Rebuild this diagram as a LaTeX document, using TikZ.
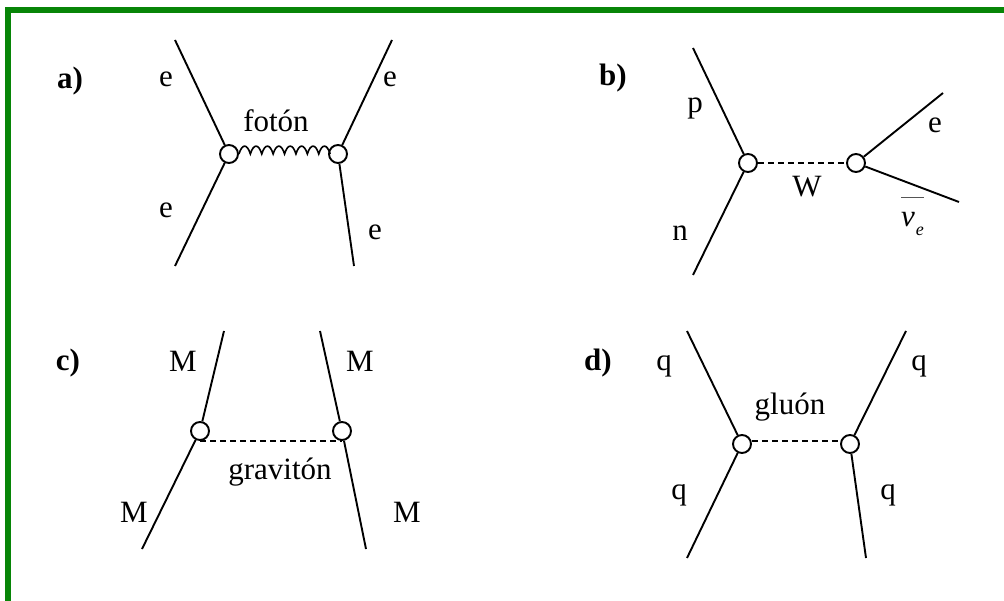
\documentclass[tikz,border=0pt]{standalone}
\usepackage{fontspec}
\setmainfont{Liberation Serif}
\usetikzlibrary{positioning}
\definecolor{framegreen}{HTML}{078507}
\definecolor{bargray}{HTML}{555555}

\begin{document}
\begin{tikzpicture}[
    x=1pt, y=-1pt,
    vertex/.style={circle, draw, line width=1.9pt, fill=white,
        minimum size=18pt, inner sep=0pt},
    fermion/.style={line width=1.9pt},
    boson/.style={line width=1.9pt, dash pattern=on 6pt off 4pt},
    lbl/.style={font=\fontsize{31}{37}\selectfont, inner sep=0pt},
    panel/.style={font=\fontsize{31}{37}\selectfont\bfseries, inner sep=0pt}
]
\useasboundingbox (0,0) rectangle (1004,601);

%% ---- Frame ----
\fill[framegreen] (5,7) rectangle (1004,13);
\fill[framegreen] (5,7) rectangle (11,601);

%% ---- a) electromagnetic ----
\node[panel] (a_tag) at (70,81) {a)};
\node[vertex] (a1) at (229,154) {};
\node[vertex] (a2) at (338,154) {};
\coordinate (a_tl) at (175,40);
\coordinate (a_tr) at (392,40);
\coordinate (a_bl) at (175,266);
\coordinate (a_br) at (354,266);
\draw[fermion] (a_tl) -- (a1);
\draw[fermion] (a_bl) -- (a1);
\draw[fermion] (a_tr) -- (a2);
\draw[fermion] (a_br) -- (a2);
% photon line
\draw[line width=1.6pt, line join=miter] (a1.east) foreach \k in {1,...,8} {
    .. controls +(3.2,-10.5) and +(-3.2,-10.5) .. ++(11.4,0) };
\node[lbl] (a_e1) at (166,79) {e};
\node[lbl] (a_e2) at (390,79) {e};
\node[lbl] (a_e3) at (166,210) {e};
\node[lbl] (a_e4) at (375,232) {e};
\node[lbl] (a_foton) at (276,121) {fotón};

%% ---- b) weak ----
\node[panel] (b_tag) at (613,78) {b)};
\node[vertex] (b1) at (748,163) {};
\node[vertex] (b2) at (856,163) {};
\coordinate (b_p) at (693,48);
\coordinate (b_n) at (693,275);
\coordinate (b_e) at (943,93);
\coordinate (b_nu) at (959,202);
\draw[fermion] (b_p) -- (b1);
\draw[fermion] (b_n) -- (b1);
\draw[fermion] (b_e) -- (b2);
\draw[fermion] (b_nu) -- (b2);
\draw[boson] (b1) -- (b2);
\node[lbl] (b_plbl) at (695,108) {p};
\node[lbl] (b_nlbl) at (680,233) {n};
\node[lbl] (b_elbl) at (935,125) {e};
\node[lbl] (b_W) at (807,187) {W};
\node[lbl, anchor=base west] (b_nulbl) at (901,227) {%
    \color{bargray}$\overline{\hbox{\color{black}\rule{0pt}{0.92em}\itshape ν\kern1pt\raisebox{-0.28em}{\fontsize{18}{18}\selectfont e}}}$};

%% ---- c) gravitational ----
\node[panel] (c_tag) at (68,363) {c)};
\node[vertex] (c1) at (200,431) {};
\node[vertex] (c2) at (342,431) {};
\coordinate (c_tl) at (224,331);
\coordinate (c_tr) at (320,331);
\coordinate (c_bl) at (142,549);
\coordinate (c_br) at (366,549);
\draw[fermion] (c_tl) -- (c1);
\draw[fermion] (c_bl) -- (c1);
\draw[fermion] (c_tr) -- (c2);
\draw[fermion] (c_br) -- (c2);
\draw[boson] (c1.south) -- (c2.south);
\node[lbl] (c_m1) at (183,361) {M};
\node[lbl] (c_m2) at (360,361) {M};
\node[lbl] (c_m3) at (134,512) {M};
\node[lbl] (c_m4) at (407,512) {M};
\node[lbl] (c_grav) at (280,472) {gravitón};

%% ---- d) strong ----
\node[panel] (d_tag) at (598,363) {d)};
\node[vertex] (d1) at (742,444) {};
\node[vertex] (d2) at (850,444) {};
\coordinate (d_tl) at (687,331);
\coordinate (d_tr) at (906,331);
\coordinate (d_bl) at (687,558);
\coordinate (d_br) at (866,558);
\draw[fermion] (d_tl) -- (d1);
\draw[fermion] (d_bl) -- (d1);
\draw[fermion] (d_tr) -- (d2);
\draw[fermion] (d_br) -- (d2);
\draw[boson] ([yshift=3pt]d1.east) -- ([yshift=3pt]d2.west);
\node[lbl] (d_q1) at (664,366) {q};
\node[lbl] (d_q2) at (919,366) {q};
\node[lbl] (d_q3) at (679,495) {q};
\node[lbl] (d_q4) at (888,495) {q};
\node[lbl] (d_gluon) at (790,407) {gluón};

\end{tikzpicture}
\end{document}
